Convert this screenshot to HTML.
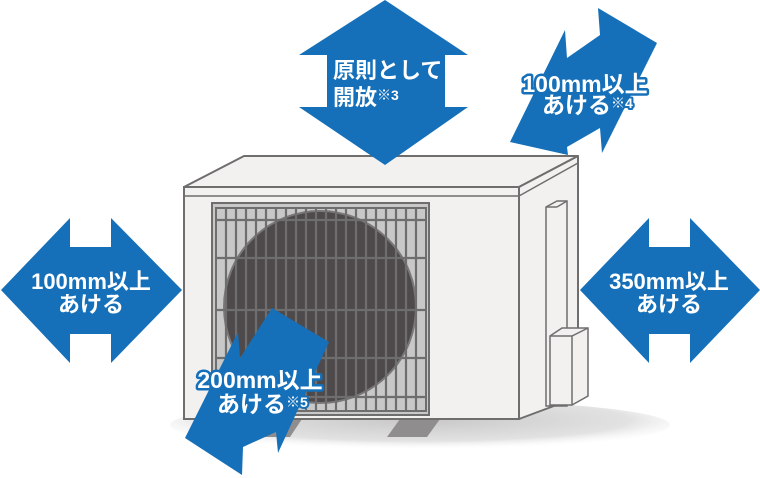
<!DOCTYPE html>
<html><head><meta charset="utf-8"><style>
html,body{margin:0;padding:0;background:#fff;}
svg{display:block;}
text{font-family:"Liberation Sans","Noto Sans CJK JP",sans-serif;font-size:22px;fill:#fff;font-weight:bold;}
.o{stroke:#1570b9;stroke-width:5px;paint-order:stroke;stroke-linejoin:round;font-size:23px;}
.s{font-size:14px;}
</style></head><body>
<svg width="760" height="478" viewBox="0 0 760 478" xmlns="http://www.w3.org/2000/svg">
<defs>
<radialGradient id="sh" cx="0.5" cy="0.4" r="0.6">
<stop offset="0" stop-color="#c8c8c8"/><stop offset="0.7" stop-color="#e2e2e2"/><stop offset="1" stop-color="#fff" stop-opacity="0"/>
</radialGradient>
</defs>
<ellipse cx="420" cy="425" rx="250" ry="25" fill="url(#sh)"/>
<polygon points="262,419 302,419 290,437 250,437" fill="#8f8d8e"/>
<polygon points="400,419 440,419 427,437 387,437" fill="#8f8d8e"/>
<polygon points="184,187 244,156 578,156 519,187" fill="#f2f1ef" stroke="#6e6e6e" stroke-width="2" stroke-linejoin="round"/>
<polygon points="519,187 578,156 578,397 519,419" fill="#f2f1ef" stroke="#6e6e6e" stroke-width="2" stroke-linejoin="round"/>
<line x1="519" y1="196" x2="578" y2="163" stroke="#6e6e6e" stroke-width="1.5"/>
<rect x="184" y="187" width="335" height="232" fill="#f2f1ef" stroke="#6e6e6e" stroke-width="2"/>
<line x1="184" y1="196" x2="519" y2="196" stroke="#6e6e6e" stroke-width="1.5"/>
<polygon points="546,207 557,201 567,201 567,406 546,406" fill="#f2f1ef" stroke="#6e6e6e" stroke-width="1.5"/>
<line x1="546" y1="207" x2="557" y2="207" stroke="#6e6e6e" stroke-width="1.5"/>
<line x1="557" y1="207" x2="567" y2="201" stroke="#6e6e6e" stroke-width="1.5"/>
<polygon points="550,336 562,328 588,328 588,396 572,405 550,405" fill="#f2f1ef" stroke="#6e6e6e" stroke-width="1.5"/>
<polyline points="550,336 572,336 588,328" fill="none" stroke="#6e6e6e" stroke-width="1.5"/>
<line x1="572" y1="336" x2="572" y2="405" stroke="#6e6e6e" stroke-width="1.5"/>
<rect x="212" y="203" width="217" height="212" fill="#c8c8c8" stroke="#6e6e6e" stroke-width="2"/>
<circle cx="320" cy="307" r="96" fill="#4e4a4b" stroke="#7a7879" stroke-width="2"/>
<g stroke="#6e6e6e" stroke-width="2.2">
<line x1="226" y1="208" x2="226" y2="411"/><line x1="236" y1="208" x2="236" y2="411"/>
<line x1="246" y1="208" x2="246" y2="411"/><line x1="256" y1="208" x2="256" y2="411"/>
<line x1="266" y1="208" x2="266" y2="411"/><line x1="276" y1="208" x2="276" y2="411"/>
<line x1="286" y1="208" x2="286" y2="411"/><line x1="296" y1="208" x2="296" y2="411"/>
<line x1="306" y1="208" x2="306" y2="411"/><line x1="316" y1="208" x2="316" y2="411"/>
<line x1="326" y1="208" x2="326" y2="411"/><line x1="336" y1="208" x2="336" y2="411"/>
<line x1="346" y1="208" x2="346" y2="411"/><line x1="356" y1="208" x2="356" y2="411"/>
<line x1="366" y1="208" x2="366" y2="411"/><line x1="376" y1="208" x2="376" y2="411"/>
<line x1="386" y1="208" x2="386" y2="411"/><line x1="396" y1="208" x2="396" y2="411"/>
<line x1="406" y1="208" x2="406" y2="411"/><line x1="416" y1="208" x2="416" y2="411"/>
<line x1="216" y1="220" x2="426" y2="220"/><line x1="216" y1="258" x2="426" y2="258"/>
<line x1="216" y1="310" x2="426" y2="310"/><line x1="216" y1="358" x2="426" y2="358"/>
<line x1="216" y1="397" x2="426" y2="397"/>
</g>
<rect x="216" y="208" width="210" height="203" fill="none" stroke="#6e6e6e" stroke-width="2"/>
<g fill="#1570b9">
<polygon points="385,0 468,55 445,55 445,107 468,107 385,165 299,107 327,107 327,55 299,55"/>
<polygon points="1,290 70,218 70,247 111,247 111,218 182,290 111,363 111,334 70,334 70,363"/>
<polygon points="580,290 649,218 649,247 690,247 690,218 760,290 690,363 690,334 649,334 649,363"/>
<polygon points="565,30 567,58 600,35 598,8 657,43 602,153 600,128 567,147 568,155 510,142"/>
<polygon points="238,332 240,358 272,308 329,342 278,453 276,432 243,447 242,475 185,438"/>
</g>
<text x="91" y="289" text-anchor="middle">100mm以上</text>
<text x="91" y="312" text-anchor="middle">あける</text>
<text x="669" y="289" text-anchor="middle">350mm以上</text>
<text x="669" y="312" text-anchor="middle">あける</text>
<text x="333" y="78" font-size="20">原則として</text>
<text x="333" y="105" font-size="20">開放<tspan class="s" dy="-5">※3</tspan></text>
<text class="o" x="585" y="92" text-anchor="middle">100mm以上</text>
<text class="o" x="542" y="113">あける<tspan class="s" dy="-5" stroke-width="4">※4</tspan></text>
<text class="o" x="260" y="388" text-anchor="middle">200mm以上</text>
<text class="o" x="217" y="412">あける<tspan class="s" dy="-5" stroke-width="4">※5</tspan></text>
</svg>
</body></html>
